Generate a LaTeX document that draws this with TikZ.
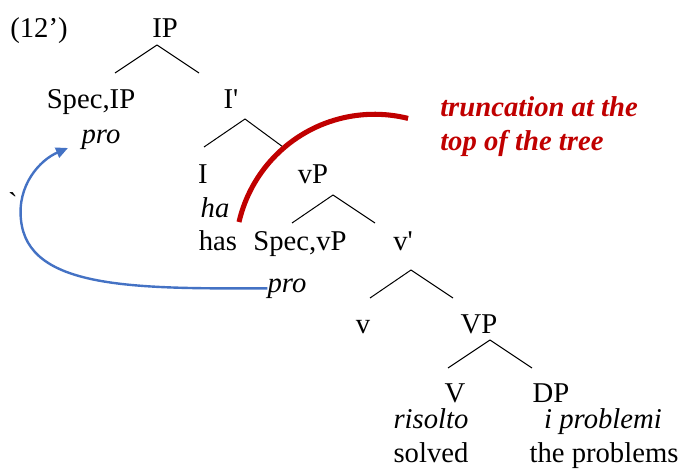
\documentclass[tikz,border=0pt]{standalone}
\usepackage{fontspec}
\setmainfont{Liberation Serif}
\usetikzlibrary{arrows.meta}
\usetikzlibrary{positioning}

\definecolor{truncred}{HTML}{C00000}
\definecolor{moveblue}{HTML}{4472C4}

\begin{document}
\begin{tikzpicture}
    [x=0.75pt, y=-0.75pt,
     lbl/.style={anchor=base, inner sep=0pt, font=\fontsize{21.5}{25.5}\selectfont},
     gloss/.style={lbl, font=\fontsize{21.5}{25.5}\selectfont\itshape},
     branch/.style={line width=0.75pt},
     trunc/.style={draw=truncred, line width=3.8pt},
     move/.style={draw=moveblue, line width=1.8pt, -{Triangle[length=9pt, width=8pt]}}]

    \useasboundingbox (0,0) rectangle (681,475);

    \node [lbl] (ex) at (39,37) {(12')};
    \node [lbl] (ip) at (165,37) {IP};
    \node [lbl] (specip) at (91,108) {Spec,IP};
    \node [gloss] (pro1) at (101,143) {pro};
    \node [lbl] (ibar) at (231,108) {I\textquotesingle};
    \node [lbl] (i) at (203,183) {I};
    \node [gloss] (ha) at (215,217) {ha};
    \node [lbl] (has) at (218,250) {has};
    \node [lbl] (vp) at (313,183) {vP};
    \node [lbl] (specvp) at (300,250) {Spec,vP};
    \node [gloss] (pro2) at (287,292) {pro};
    \node [lbl] (vbar) at (403,250) {v\textquotesingle};
    \node [lbl] (v) at (363,333) {v};
    \node [lbl] (vpbig) at (479,333) {VP};
    \node [lbl] (verb) at (455,402) {V};
    \node [lbl] (dp) at (551,402) {DP};
    \node [gloss] (risolto) at (431,428) {risolto};
    \node [gloss] (iproblemi) at (603,428) {i problemi};
    \node [lbl] (solved) at (431,462) {solved};
    \node [lbl] (theproblems) at (604,462) {the problems};
    \node [lbl] (tick) at (13,212) {\textasciigrave};

    % branches
    \coordinate (fip) at (157,45);
    \coordinate (fibar) at (245,119);
    \coordinate (fvp) at (333,195);
    \coordinate (fvbar) at (411,270);
    \coordinate (fvpbig) at (490,340);
    \draw [branch] (fip) -- ++(-42,28) (fip) -- ++(42,28);
    \draw [branch] (fibar) -- ++(-41,28) (fibar) -- ++(38,28);
    \draw [branch] (fvp) -- ++(-41,28) (fvp) -- ++(42,28);
    \draw [branch] (fvbar) -- ++(-41,28) (fvbar) -- ++(42,28);
    \draw [branch] (fvpbig) -- ++(-42,28) (fvpbig) -- ++(42,28);

    % truncation
    \coordinate (tstart) at (239,222);
    \draw [trunc] (tstart) arc [start angle=167, end angle=76, radius=104.25pt];
    \node [lbl, anchor=north west, align=left, text=truncred, font=\fontsize{21.5}{25.5}\selectfont\bfseries\itshape]
        (note) at (440,96) {truncation at the\\top of the tree};

    % pro movement
    \coordinate (tip) at (68,148);
    \draw [move] (pro2.west) .. controls (130,289) and (28,288) .. (21,220)
        .. controls (17,185) and (40,160) .. (tip);
\end{tikzpicture}
\end{document}
